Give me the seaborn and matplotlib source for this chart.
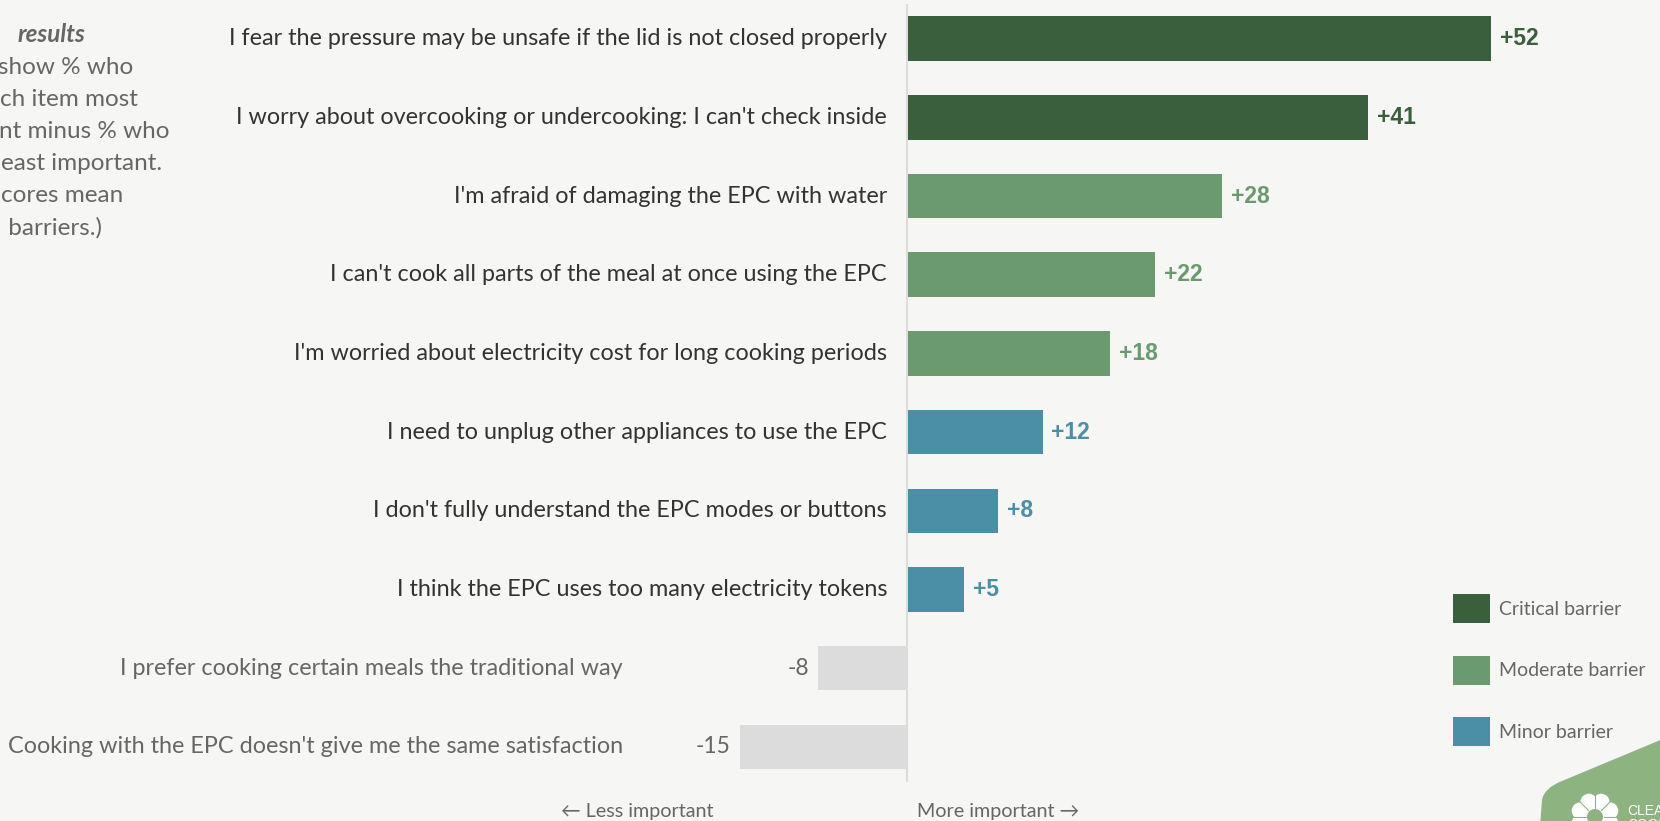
import matplotlib
matplotlib.use("Agg")
import matplotlib.pyplot as plt
from matplotlib.patches import Patch, PathPatch, Circle
from matplotlib.path import Path
import numpy as np
import pandas as pd
import seaborn as sns

# ---- data -------------------------------------------------------------
barriers = [
    "I fear the pressure may be unsafe if the lid is not closed properly",
    "I worry about overcooking or undercooking: I can't check inside",
    "I'm afraid of damaging the EPC with water",
    "I can't cook all parts of the meal at once using the EPC",
    "I'm worried about electricity cost for long cooking periods",
    "I need to unplug other appliances to use the EPC",
    "I don't fully understand the EPC modes or buttons",
    "I think the EPC uses too many electricity tokens",
    "I prefer cooking certain meals the traditional way",
    "Cooking with the EPC doesn't give me the same satisfaction",
]
net_scores = [52, 41, 28, 22, 18, 12, 8, 5, -8, -15]
tiers = ["Critical barrier", "Critical barrier", "Moderate barrier", "Moderate barrier",
         "Moderate barrier", "Minor barrier", "Minor barrier", "Minor barrier",
         "Not a barrier", "Not a barrier"]
legend_tiers = ["Critical barrier", "Moderate barrier", "Minor barrier"]
note_lines = ["results", "show % who", "ch item most", "nt minus % who",
              "east important.", "cores mean", " barriers.)"]
axis_hints = ["\u2190 Less important", "More important \u2192"]

# ---- style ------------------------------------------------------------
BG = "#f6f6f4"
palette = {
    "Critical barrier": "#3a5f3d",
    "Moderate barrier": "#6a9a6d",
    "Minor barrier": "#4a8fa6",
    "Not a barrier": "#dcdcdc",
}
BADGE = "#8db381"
sns.set_theme(style="white")
plt.rcParams["font.family"] = ["Lato", "DejaVu Sans"]
plt.rcParams["figure.facecolor"] = BG
plt.rcParams["axes.facecolor"] = BG

W, H = 1660, 821
fig = plt.figure(figsize=(W / 100, H / 100), dpi=100)
ax = fig.add_axes([0, 0, 1, 1])

df = pd.DataFrame({"barrier": barriers, "score": net_scores, "tier": tiers})

# pixel geometry of the bar area
x0_px, unit_px = 908.0, 11.21
row0_px, row_px = 38.6, 78.7

sns.barplot(data=df, y="barrier", x="score", hue="tier", palette=palette,
            dodge=False, width=0.565, orient="h", legend=False, ax=ax,
            saturation=1, linewidth=0, zorder=2)

ax.set_xlim(-x0_px / unit_px, (W - x0_px) / unit_px)
ax.set_ylim((H - row0_px) / row_px, -row0_px / row_px)
ax.set_axis_off()

# zero line
ax.plot([-0.1, -0.1], [(4 - row0_px) / row_px, (782 - row0_px) / row_px],
        color="#dcdcdc", lw=1.5, zorder=1, solid_capstyle="butt")

label_x_pos = (887 - x0_px) / unit_px
label_x_neg = (623 - x0_px) / unit_px
gap = 0.8
for i, (name, v, t) in enumerate(zip(barriers, net_scores, tiers)):
    if v >= 0:
        ax.text(label_x_pos, i, name, ha="right", va="center",
                fontsize=16.8, color="#333333")
        ax.text(v + gap, i, f"+{v}", ha="left", va="center",
                fontsize=16.5, fontweight="bold", color=palette[t],
                family=["Liberation Sans", "DejaVu Sans"])
    else:
        ax.text(label_x_neg, i, name, ha="right", va="center",
                fontsize=16.8, color="#666666")
        ax.text(v - gap, i, f"{v}", ha="right", va="center",
                fontsize=16.5, color="#666666")

# legend
handles = [Patch(facecolor=palette[t], edgecolor="none", label=t) for t in legend_tiers]
fig.legend(handles=handles, loc="upper left",
           bbox_to_anchor=(1453 / W, 1 - 594 / H), frameon=False,
           fontsize=14, handlelength=1.92, handleheight=1.92,
           labelspacing=1.68, handletextpad=0.45, borderpad=0, borderaxespad=0,
           labelcolor="#666666")

# overlay in pixel coordinates for notes and badge
ov = fig.add_axes([0, 0, 1, 1], zorder=5)
ov.set_xlim(0, W)
ov.set_ylim(H, 0)
ov.set_axis_off()
ov.patch.set_alpha(0)

note_y = [34, 67, 99, 131, 163, 195, 228]
note_x = [18, -2, 0, -1, 1, 1, 2]
for k, (s, y, x) in enumerate(zip(note_lines, note_y, note_x)):
    ov.text(x, y, s, ha="left", va="center", fontsize=17.5, color="#666666",
            fontweight="bold" if k == 0 else "normal",
            fontstyle="italic" if k == 0 else "normal")

ov.text(713, 812, axis_hints[0], ha="right", va="center", fontsize=14.2, color="#666666")
ov.text(917, 812, axis_hints[1], ha="left", va="center", fontsize=14.2, color="#666666")

# badge in the lower-right corner
verts = [(1539, 840), (1542, 800), (1544, 788), (1562, 781), (1670, 736), (1670, 840), (1539, 840)]
codes = [Path.MOVETO, Path.LINETO, Path.CURVE3, Path.CURVE3, Path.LINETO, Path.LINETO, Path.CLOSEPOLY]
ov.add_patch(PathPatch(Path(verts, codes), facecolor=BADGE, edgecolor="none"))
cx, cy = 1595, 817
ov.add_patch(Circle((cx, cy), 17, facecolor="white", edgecolor="none"))
for a in np.linspace(0, 2 * np.pi, 9)[:-1] + np.pi / 8:
    ov.add_patch(Circle((cx + 16 * np.cos(a), cy + 16 * np.sin(a)), 8.5,
                        facecolor="white", edgecolor="none"))
for a in np.linspace(0, 2 * np.pi, 9)[:-1]:
    ov.plot([cx + 9 * np.cos(a), cx + 25 * np.cos(a)],
            [cy + 9 * np.sin(a), cy + 25 * np.sin(a)], color=BADGE, lw=0.8)
ov.add_patch(Circle((cx, cy), 8, facecolor=BADGE, edgecolor="none"))
ov.text(1627, 811, "CLEAN", ha="left", va="center", fontsize=10, color="white",
        family=["Liberation Sans", "DejaVu Sans"])
ov.text(1627, 825, "COOKING", ha="left", va="center", fontsize=10, color="white",
        family=["Liberation Sans", "DejaVu Sans"])

fig.savefig("out.png", dpi=100, facecolor=BG)
